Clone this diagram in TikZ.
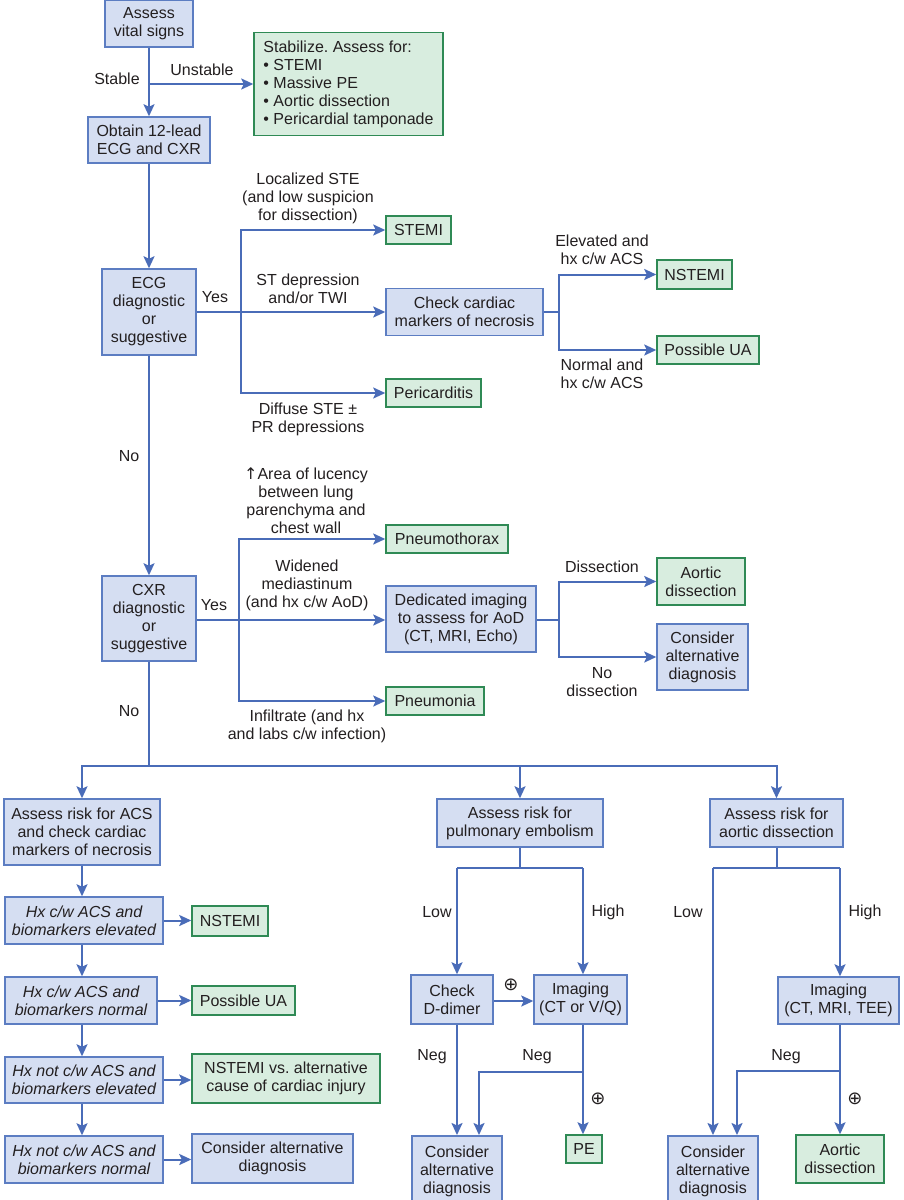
\documentclass[tikz,border=0pt]{standalone}
\usepackage{fontspec}
\setmainfont{Liberation Sans}
\newfontfamily\dejavu{DejaVu Sans}
\usetikzlibrary{arrows.meta}
\frenchspacing
\definecolor{bfill}{HTML}{D5DEF2}
\definecolor{bdr}{HTML}{5C7DC2}
\definecolor{gfill}{HTML}{D8EDDF}
\definecolor{gdr}{HTML}{2F8A55}
\definecolor{lc}{HTML}{4A6CB8}
\definecolor{txt}{HTML}{231F20}
\newcommand\mainsz{\fontsize{16}{18}\selectfont}
\newcommand\plusc{{\dejavu\fontsize{18}{18}\selectfont ⊕}}
\tikzset{
  base/.style={draw, line width=1.5pt, inner sep=0pt, align=center, font=\mainsz, text=txt},
  bbox/.style={base, draw=bdr, fill=bfill},
  gbox/.style={base, draw=gdr, fill=gfill},
  lbl/.style={inner sep=0pt, align=center, font=\mainsz, text=txt},
  arr/.style={draw=lc, line width=2pt, -{Stealth[length=12pt,width=11pt,inset=2.5pt]}},
  ln/.style={draw=lc, line width=2pt},
}
\begin{document}
\frenchspacing
\begin{tikzpicture}[x=1pt,y=-1pt]
\fill[white] (0,0) rectangle (903,1200);
\useasboundingbox (0,0) rectangle (903,1200);

% ---- top section
\node[bbox, minimum width=88pt, minimum height=47pt] (vital) at (149,23.5) {Assess\\vital signs};
\node[gbox, minimum width=189pt, minimum height=103pt, align=left] (stab) at (348.5,84) {Stabilize. Assess for:\\• STEMI\\• Massive PE\\• Aortic dissection\\• Pericardial tamponade};
\node[bbox, minimum width=122pt, minimum height=46pt] (obtain) at (149,140) {Obtain 12-lead\\ECG and CXR};
\node[bbox, minimum width=94pt, minimum height=86pt] (ecg) at (149,312) {ECG\\diagnostic\\or\\suggestive};
\node[gbox, minimum width=65pt, minimum height=28pt] (stemi) at (418.5,230) {STEMI};
\node[bbox, minimum width=157pt, minimum height=47pt] (check) at (464.5,312) {Check cardiac\\markers of necrosis};
\node[gbox, minimum width=95pt, minimum height=28pt] (peri) at (433.5,393) {Pericarditis};
\node[gbox, minimum width=75pt, minimum height=29pt] (nst1) at (694.5,274.5) {NSTEMI};
\node[gbox, minimum width=102pt, minimum height=28pt] (pua1) at (708,350) {Possible UA};

\node[bbox, minimum width=94pt, minimum height=85pt] (cxr) at (149,618.5) {CXR\\diagnostic\\or\\suggestive};
\node[gbox, minimum width=122pt, minimum height=28pt] (pneumo) at (447,539) {Pneumothorax};
\node[bbox, minimum width=150pt, minimum height=66pt] (dedic) at (461,619) {Dedicated imaging\\to assess for AoD\\(CT, MRI, Echo)};
\node[gbox, minimum width=98pt, minimum height=28pt] (pneumonia) at (435,701) {Pneumonia};
\node[gbox, minimum width=88pt, minimum height=47pt] (aod1) at (701,581.5) {Aortic\\dissection};
\node[bbox, minimum width=91pt, minimum height=66pt] (alt1) at (702.5,657) {Consider\\alternative\\diagnosis};

% ---- bottom section
\node[bbox, minimum width=156pt, minimum height=66pt] (acs) at (82,832) {Assess risk for ACS\\and check cardiac\\markers of necrosis};
\node[bbox, minimum width=166pt, minimum height=48pt] (pe) at (520,823) {Assess risk for\\pulmonary embolism};
\node[bbox, minimum width=133pt, minimum height=48pt] (aor) at (776.5,823) {Assess risk for\\aortic dissection};

\node[bbox, minimum width=158pt, minimum height=47pt, font=\mainsz\itshape] (hx1) at (84,920.5) {Hx c/w ACS and\\biomarkers elevated};
\node[gbox, minimum width=76pt, minimum height=30pt] (nst2) at (230,921) {NSTEMI};
\node[bbox, minimum width=152pt, minimum height=47pt, font=\mainsz\itshape] (hx2) at (81,1000.5) {Hx c/w ACS and\\biomarkers normal};
\node[gbox, minimum width=103pt, minimum height=29pt] (pua2) at (243.5,1000.5) {Possible UA};
\node[bbox, minimum width=158pt, minimum height=46pt, font=\mainsz\itshape] (hx3) at (84,1080) {Hx not c/w ACS and\\biomarkers elevated};
\node[gbox, minimum width=188pt, minimum height=49pt] (nvs) at (286,1078.5) {NSTEMI vs. alternative\\cause of cardiac injury};
\node[bbox, minimum width=158pt, minimum height=47pt, font=\mainsz\itshape] (hx4) at (84,1159.5) {Hx not c/w ACS and\\biomarkers normal};
\node[bbox, minimum width=161pt, minimum height=49pt] (alt2) at (272.5,1158.5) {Consider alternative\\diagnosis};

\node[bbox, minimum width=82pt, minimum height=49pt] (dd) at (452,999.5) {Check\\D-dimer};
\node[bbox, minimum width=93pt, minimum height=49pt] (img1) at (580.5,999.5) {Imaging\\(CT or V/Q)};
\node[bbox, minimum width=90pt, minimum height=72pt, anchor=north] (alt3) at (457,1135) {Consider\\alternative\\diagnosis};
\node[gbox, minimum width=36pt, minimum height=28pt] (pe2) at (584,1149) {PE};

\node[bbox, minimum width=121pt, minimum height=47pt] (img2) at (838.5,1000.5) {Imaging\\(CT, MRI, TEE)};
\node[bbox, minimum width=90pt, minimum height=72pt, anchor=north] (alt4) at (713,1135) {Consider\\alternative\\diagnosis};
\node[gbox, minimum width=88pt, minimum height=48pt] (aod2) at (840,1159) {Aortic\\dissection};

% ---- labels
\node[lbl] (lstable) at (117,79) {Stable};
\node[lbl] (lunstable) at (202,70) {Unstable};
\node[lbl] (lloc) at (308,198) {Localized STE\\(and low suspicion\\for dissection)};
\node[lbl] (lstdep) at (308,288.5) {ST depression\\and/or TWI};
\node[lbl] (lyes1) at (215,297) {Yes};
\node[lbl] (ldiff) at (308,419) {Diffuse STE ±\\PR depressions};
\node[lbl] (lelev) at (602,250) {Elevated and\\hx c/w ACS};
\node[lbl] (lnorm) at (602,374) {Normal and\\hx c/w ACS};
\node[lbl] (lno1) at (129,456) {No};
\node[lbl] (lluc) at (306,500.5) {{\dejavu\fontsize{16}{16}\selectfont ↑}Area of lucency\\between lung\\parenchyma and\\chest wall};
\node[lbl] (lwid) at (307,585) {Widened\\mediastinum\\(and hx c/w AoD)};
\node[lbl] (lyes2) at (214,605) {Yes};
\node[lbl] (linf) at (307,726) {Infiltrate (and hx\\and labs c/w infection)};
\node[lbl] (ldis) at (602,567) {Dissection};
\node[lbl] (lnodis) at (602,682) {No\\dissection};
\node[lbl] (lno2) at (129,711) {No};

\node[lbl] (llow1) at (437,912) {Low};
\node[lbl] (lhigh1) at (608,912) {High};
\node[lbl] (lp1) at (511,985) {\plusc};
\node[lbl] (lneg1) at (432,1057) {Neg};
\node[lbl] (lneg2) at (537,1057) {Neg};
\node[lbl] (lp2) at (598,1099) {\plusc};
\node[lbl] (llow2) at (688,912) {Low};
\node[lbl] (lhigh2) at (865,912) {High};
\node[lbl] (lneg3) at (786,1057) {Neg};
\node[lbl] (lp3) at (855,1099) {\plusc};

% ---- connectors top
\draw[arr] (vital.south) -- (obtain.north);
\coordinate (s1) at (149,84);
\draw[arr] (s1) -- (s1 -| stab.west);
\draw[arr] (obtain.south) -- (ecg.north);
\coordinate (j1) at (241,312);
\draw[ln] (ecg.east) -- (j1);
\draw[arr] (j1) |- (stemi.west);
\draw[arr] (j1) -- (check.west);
\draw[arr] (j1) |- (peri.west);
\coordinate (j2) at (559,312);
\draw[ln] (check.east) -- (j2);
\draw[arr] (j2) |- (nst1.west);
\draw[arr] (j2) |- (pua1.west);

\draw[arr] (ecg.south) -- (cxr.north);
\coordinate (j3) at (239,620);
\draw[ln] (cxr.east |- j3) -- (j3);
\draw[arr] (j3) |- (pneumo.west);
\draw[arr] (j3) -- (j3 -| dedic.west);
\draw[arr] (j3) |- (pneumonia.west);
\coordinate (j4) at (559,620);
\draw[ln] (dedic.east |- j4) -- (j4);
\draw[arr] (j4) |- (aod1.west);
\draw[arr] (j4) |- (alt1.west);

% ---- bus
\coordinate (bus) at (149,766);
\draw[ln] (cxr.south) -- (bus);
\draw[arr] (bus) -| (acs.north);
\draw[arr] (bus) -| (aor.north);
\draw[arr] (pe.north |- bus) -- (pe.north);

% ---- ACS column
\draw[arr] (acs.south) -- (acs.south |- hx1.north);
\draw[arr] (acs.south |- hx1.south) -- (acs.south |- hx2.north);
\draw[arr] (acs.south |- hx2.south) -- (acs.south |- hx3.north);
\draw[arr] (acs.south |- hx3.south) -- (acs.south |- hx4.north);
\draw[arr] (hx1.east) -- (hx1.east -| nst2.west);
\draw[arr] (hx2.east) -- (hx2.east -| pua2.west);
\draw[arr] (hx3.east) -- (hx3.east -| nvs.west);
\draw[arr] (hx4.east) -- (hx4.east -| alt2.west);

% ---- PE column
\coordinate (pl) at (457,868);
\coordinate (pr) at (583,868);
\draw[ln] (pe.south) -- (pe.south |- pl);
\draw[ln] (pl) -- (pr);
\draw[arr] (pl) -- (pl |- dd.north);
\draw[arr] (pr) -- (pr |- img1.north);
\draw[arr] (dd.east |- 0,1001) -- (img1.west |- 0,1001);
\draw[arr] (pl |- dd.south) -- (pl |- alt3.north);
\draw[arr] (pr |- img1.south) -- (pr |- pe2.north);
\coordinate (pn) at (583,1072);
\coordinate (pn2) at (479,1072);
\draw[arr] (pn) -- (pn2) -- (pn2 |- alt3.north);

% ---- aortic column
\coordinate (al) at (713,868);
\coordinate (ar) at (840,868);
\draw[ln] (aor.south) -- (aor.south |- al);
\draw[ln] (al) -- (ar);
\draw[arr] (al) -- (al |- alt4.north);
\draw[arr] (ar) -- (ar |- img2.north);
\draw[arr] (ar |- img2.south) -- (ar |- aod2.north);
\coordinate (an) at (840,1071);
\coordinate (an2) at (737,1071);
\draw[arr] (an) -- (an2) -- (an2 |- alt4.north);
\end{tikzpicture}
\end{document}
